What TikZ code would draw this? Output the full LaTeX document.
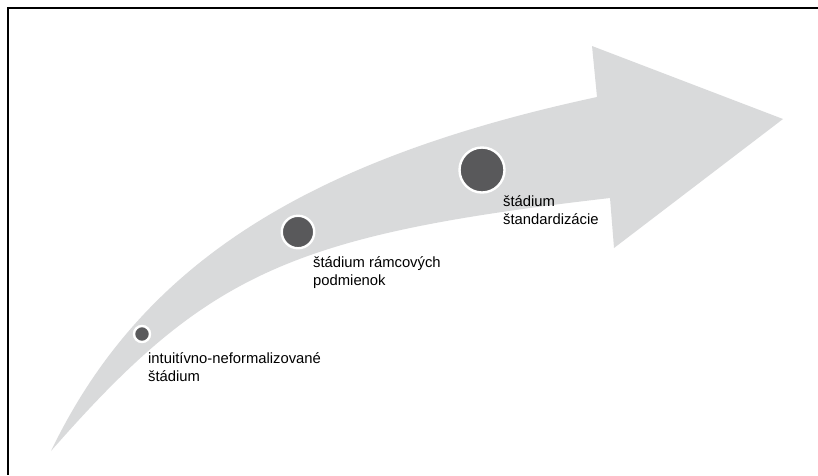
\documentclass[tikz,border=0pt]{standalone}
\usepackage{fontspec}
\setmainfont{Liberation Sans}
\usetikzlibrary{positioning}

\definecolor{arrowgrey}{RGB}{217,218,219}
\definecolor{dotgrey}{RGB}{89,89,91}

\tikzset{
	stage/.style={circle, fill=dotgrey, draw=white, line width=2.4pt, inner sep=0pt},
	stagelabel/.style={anchor=base west, align=left, inner sep=0pt, font=\fontsize{14.8}{18}\selectfont},
}

\begin{document}
\begin{tikzpicture}[x=1pt, y=-1pt]
	\useasboundingbox (0,0) rectangle (818,475);
	\draw[line width=1.3pt] (818,8) -- (8,8) -- (8,475);
	% curved arrow
	\fill[arrowgrey] (51,451) .. controls (140,266) and (304,160) .. (597,97)
	-- (592,46) -- (783,119) -- (614,248) -- (610,198)
	.. controls (290,235) and (207,273) .. (51,451) -- cycle;
	% stages
	\node[stage, minimum size=16pt] (intuitive) at (142,334) {};
	\node[stage, minimum size=32.5pt] (framework) at (298,232) {};
	\node[stage, minimum size=45pt] (standard) at (482,170) {};
	% labels (anchored on the last line)
	\node[stagelabel] (intuitivetext) at (148,381) {intuitívno-neformalizované\\štádium};
	\node[stagelabel] (frameworktext) at (313,285) {štádium rámcových\\podmienok};
	\node[stagelabel] (standardtext) at (503,224) {štádium\\štandardizácie};
\end{tikzpicture}
\end{document}
